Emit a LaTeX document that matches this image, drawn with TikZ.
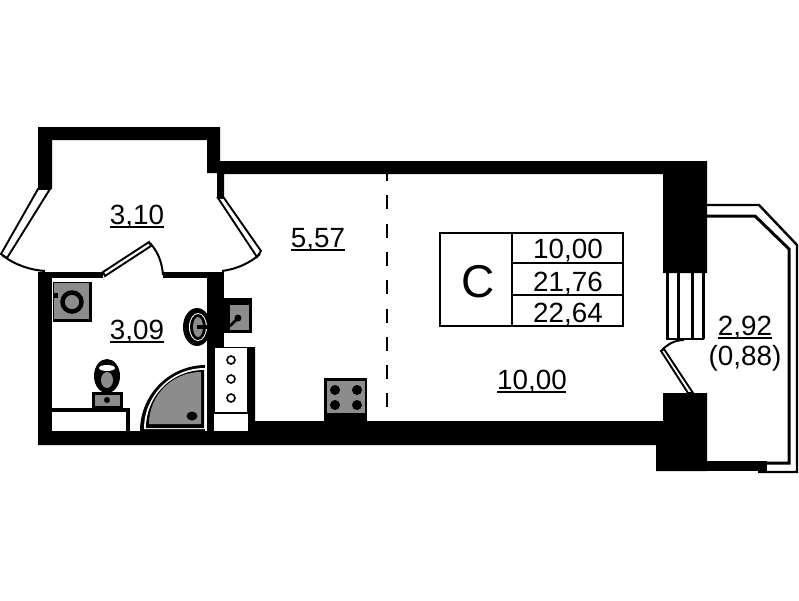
\documentclass[tikz,border=0pt]{standalone}
\usepackage{fontspec}
\setmainfont{Liberation Sans}
\tikzset{
  num/.style={anchor=base,inner sep=0pt,font=\fontsize{27.8}{30}\selectfont},
  big/.style={anchor=base,inner sep=0pt,font=\fontsize{46}{50}\selectfont},
  ul/.style={line width=1.8pt},
  wall/.style={fill=black,draw=none},
  fix/.style={fill=black!45,draw=none},
  thin/.style={line width=2pt},
  glass/.style={line width=1.9pt},
  bal/.style={line width=3pt,line join=miter},
  box/.style={line width=2.2pt,line join=miter},
}
\begin{document}
\begin{tikzpicture}[x=1pt,y=-1pt]
\useasboundingbox[fill=white] (0,0) rectangle (799,600);
% dashed zone divider
\draw[line width=2.2pt,dash pattern=on 14pt off 14.3pt] (387,167) -- (387,421);
% balcony
\draw[line width=2.4pt,line join=miter] (707,205) -- (759,205) -- (797,245) -- (797,472) -- (758,472);
\draw[bal] (707,216) -- (755,216) -- (789,249) -- (789,463) -- (707,463);
\fill[wall] (707,461) rectangle (767,471);
% walls
\fill[wall] (38,127) -- (220,127) -- (220,161) -- (707,161) -- (707,273) -- (663,273) -- (663,174)
  -- (224,174) -- (224,198) -- (217,198) -- (217,173) -- (207,173) -- (207,140) -- (52,140) -- (52,189) -- (38,189) -- cycle;
\fill[wall] (38,272) rectangle (103,278);
\fill[wall] (163,272) rectangle (224,278);
\fill[wall] (207,278) rectangle (224,347);
\fill[wall] (38,272) rectangle (52,445);
\fill[wall] (38,431) -- (214,431) -- (214,347) -- (255,347) -- (255,421) -- (663,421) -- (663,393) -- (707,393)
  -- (707,471) -- (656,471) -- (656,445) -- (38,445) -- cycle;
\fill[wall] (207,347) rectangle (214,431);
% appliance column
\fill[white] (215,348) rectangle (247,412);
\fill[white] (214,414) rectangle (248,431);
\foreach \y in {360,379,398} \draw[line width=1.6pt] (231,\y) circle (4);
% windows left and right
\draw[glass,fill=white] (38,189) -- (1,254) -- (7,258) -- (50,189) -- cycle;
\draw[glass,fill=white] (218,198) -- (257,257) -- (261,251) -- (224,198) -- cycle;
\draw[thin] (2,255) .. controls (15,265) and (30,270) .. (45,271);
\draw[thin] (260,254) .. controls (250,263) and (237,269) .. (222,271);
% door hall
\draw[glass,fill=white] (103,272) -- (149,242) -- (151,246) -- (105,276) -- cycle;
\draw[thin] (150,243) .. controls (158,252) and (162,262) .. (163,275);
% window block right
\draw[line width=3pt] (667,273) -- (667,339) (678,273) -- (678,339) (692,273) -- (692,339) (703,273) -- (703,339);
\draw[line width=2pt] (666,339) -- (704,339);
\draw[glass,fill=white] (661,351) -- (688,393) -- (693,393) -- (664,349) -- cycle;
\draw[thin] (662,350) .. controls (668,344) and (675,340) .. (684,340);
% washing machine
\fill[wall] (53,282) rectangle (92,322);
\fill[fix] (54,283) rectangle (89,319);
\draw[line width=4.5pt,fill=black!45] (72,302) circle (9.5);
\fill[wall] (53,293) rectangle (58,298);
% toilet
\fill[wall] (107,376) ellipse (13 and 17);
\fill[white] (107,368) ellipse (8 and 3);
\fill[fix] (107,380) ellipse (6 and 8);
\fill[wall] (92,392) rectangle (123,410);
\fill[fix] (95,395) rectangle (120,406);
\fill[wall] (107,400) circle (3);
\fill[wall] (52,408) rectangle (130,431);
\fill[white] (52,412) rectangle (126,431);
% shower
\fill[wall] (206,431) -- (140,431) arc[start angle=180,end angle=270,radius=66] -- cycle;
\fill[white] (205,429) -- (144,429) arc[start angle=180,end angle=270,radius=61] -- cycle;
\fill[wall] (204,428) -- (146,428) arc[start angle=180,end angle=270,radius=58] -- cycle;
\fill[fix] (201,424) -- (149,424) arc[start angle=180,end angle=270,radius=52] -- cycle;
\fill[wall] (192,416) ellipse (5.5 and 4.5);
\fill[white] (205,365) rectangle (207,431);
% washbasin
\begin{scope}
\clip (170,300) rectangle (207,350);
\fill[wall] (197,327) ellipse (14 and 19);
\fill[white] (198,327) ellipse (9 and 14);
\fill[wall] (198,327) ellipse (8 and 13);
\fill[fix] (198,327) ellipse (5 and 10);
\end{scope}
\fill[wall] (197,325) rectangle (207,329);
% kitchen sink
\fill[wall] (224,298) rectangle (252,333);
\fill[fix] (230,305) rectangle (249,330);
\fill[wall] (238,318) circle (3.5);
\draw[line width=2.5pt] (238,318) -- (230,326);
% stove
\fill[wall] (324,378) rectangle (367,421);
\fill[fix] (327,381) rectangle (365,413);
\foreach \p in {(335,390),(357,390),(335,405),(357,405)} \fill[wall] \p circle (5);
% info box
\draw[box] (440,233) rectangle (623,326);
\draw[box] (512,233) -- (512,326) (512,263) -- (623,263) (512,295) -- (623,295);
% texts
\node[big] (typ) at (478,297) {C};
\node[num] (a1) at (568,258) {10,00};
\node[num] (a2) at (568,291) {21,76};
\node[num] (a3) at (568,322) {22,64};
\node[num] (r1) at (137,224) {3,10};
\node[num] (r2) at (137,339) {3,09};
\node[num] (r3) at (318,247) {5,57};
\node[num] (r4) at (532,389) {10,00};
\node[num] (r5) at (745,335) {2,92};
\node[num] (r6) at (745,365) {(0,88)};
\draw[ul] (r1.base west) ++(0,3) -- ++(54,0);
\draw[ul] (r2.base west) ++(0,3) -- ++(54,0);
\draw[ul] (r3.base west) ++(0,3) -- ++(54,0);
\draw[ul] (r4.base west) ++(0,3) -- ++(69,0);
\draw[ul] (r5.base west) ++(0,3) -- ++(54,0);
\end{tikzpicture}
\end{document}
